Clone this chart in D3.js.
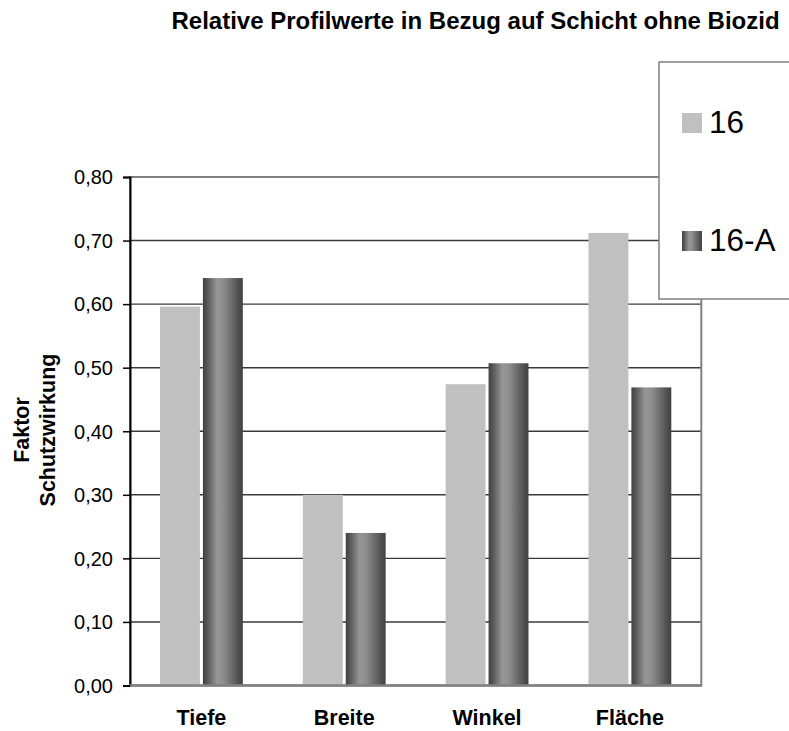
<!DOCTYPE html>
<html><head><meta charset="utf-8">
<script src="https://cdn.jsdelivr.net/npm/d3@7"></script>
<style>
html,body{margin:0;padding:0;background:#fff;}
text{font-family:"Liberation Sans",Arial,sans-serif;fill:#000;}
</style></head>
<body>
<svg id="chart" width="789" height="731"></svg>
<script>
const title = "Relative Profilwerte in Bezug auf Schicht ohne Biozid";
const yAxisTitle = ["Faktor", "Schutzwirkung"];
const categories = ["Tiefe", "Breite", "Winkel", "Fläche"];
const seriesNames = ["16", "16-A"];
const values16 = [0.596, 0.300, 0.474, 0.712];
const values16A = [0.641, 0.240, 0.507, 0.469];
const yTicks = [0, 0.1, 0.2, 0.3, 0.4, 0.5, 0.6, 0.7, 0.8];

const svg = d3.select("#chart");
const M = {left:130, right:701.3, top:177, bottom:685.5};

const defs = svg.append("defs");
const grad = defs.append("linearGradient").attr("id","cyl").attr("x1","0").attr("x2","1").attr("y1","0").attr("y2","0");
[[0,"#404040"],[0.12,"#5a5a5a"],[0.35,"#979797"],[0.5,"#8f8f8f"],[0.72,"#6c6c6c"],[0.9,"#4e4e4e"],[1,"#424242"]]
  .forEach(([o,c])=>grad.append("stop").attr("offset",o).attr("stop-color",c));
const fills = ["#c0c0c0","url(#cyl)"];

const x0 = d3.scaleBand().domain(categories).range([M.left, M.right]);
const x1 = d3.scaleBand().domain(seriesNames).range([30, x0.bandwidth()-30]).paddingInner(0.07);
const y = d3.scaleLinear().domain([0,0.8]).range([M.bottom, M.top]);
const loc = d3.formatLocale({decimal:",", thousands:".", grouping:[3], currency:["","€"]});
const fmt = loc.format(".2f");

svg.append("rect").attr("x",M.left).attr("y",M.top).attr("width",M.right-M.left).attr("height",M.bottom-M.top)
  .attr("fill","#fff");

svg.append("g").selectAll("line").data(yTicks.filter(t=>t>0 && t<0.8)).join("line")
  .attr("x1",M.left).attr("x2",M.right).attr("y1",d=>y(d)).attr("y2",d=>y(d))
  .attr("stroke","#3a3a3a").attr("stroke-width",1.4);

svg.append("rect").attr("x",M.left).attr("y",M.top).attr("width",M.right-M.left).attr("height",M.bottom-M.top)
  .attr("fill","none").attr("stroke","#808080").attr("stroke-width",2);

const data = categories.map((c,i)=>({cat:c, vals:[values16[i], values16A[i]]}));
const g = svg.append("g").selectAll("g").data(data).join("g").attr("transform",d=>`translate(${x0(d.cat)},0)`);
g.selectAll("rect").data(d=>d.vals.map((v,j)=>({s:seriesNames[j], v, j}))).join("rect")
  .attr("x",d=>x1(d.s)).attr("width",x1.bandwidth())
  .attr("y",d=>y(d.v)).attr("height",d=>y(0)-y(d.v))
  .attr("fill",d=>fills[d.j]);

const yAxis = d3.axisLeft(y).tickValues(yTicks).tickFormat(fmt).tickSize(7).tickPadding(10);
const ya = svg.append("g").attr("transform",`translate(${M.left},0)`).call(yAxis);
ya.select(".domain").attr("stroke","#000").attr("stroke-width",2);
ya.selectAll(".tick line").attr("stroke","#000").attr("stroke-width",1.5);
ya.selectAll(".tick text").attr("font-size",20).attr("font-family","Liberation Sans, Arial, sans-serif").attr("fill","#000").attr("dy","0.34em");

svg.append("line").attr("x1",M.left).attr("x2",M.right).attr("y1",y(0)).attr("y2",y(0))
  .attr("stroke","#808080").attr("stroke-width",2.5);

svg.append("g").selectAll("text").data(categories).join("text")
  .attr("x",d=>x0(d)+x0.bandwidth()/2).attr("y",725)
  .attr("text-anchor","middle").attr("font-weight","bold").attr("font-size",21.5).text(d=>d);

const yt = svg.append("text").attr("transform","translate(0,430) rotate(-90)")
  .attr("text-anchor","middle").attr("font-weight","bold").attr("font-size",21.5);
yt.append("tspan").attr("x",0).attr("y",29).text(yAxisTitle[0]);
yt.append("tspan").attr("x",0).attr("y",55).text(yAxisTitle[1]);

svg.append("text").attr("x",475.5).attr("y",29).attr("text-anchor","middle")
  .attr("font-weight","bold").attr("font-size",24).text(title);

const lg = svg.append("g");
lg.append("rect").attr("x",659).attr("y",62).attr("width",140).attr("height",237)
  .attr("fill","#fff").attr("stroke","#808080").attr("stroke-width",1.5);
const ly = [113, 231];
seriesNames.forEach((s,i)=>{
  lg.append("rect").attr("x",682).attr("y",ly[i]).attr("width",20).attr("height",20).attr("fill",fills[i]);
  lg.append("text").attr("x",709).attr("y",ly[i]+20).attr("font-size",31.5).text(s);
});
</script>
</body></html>
